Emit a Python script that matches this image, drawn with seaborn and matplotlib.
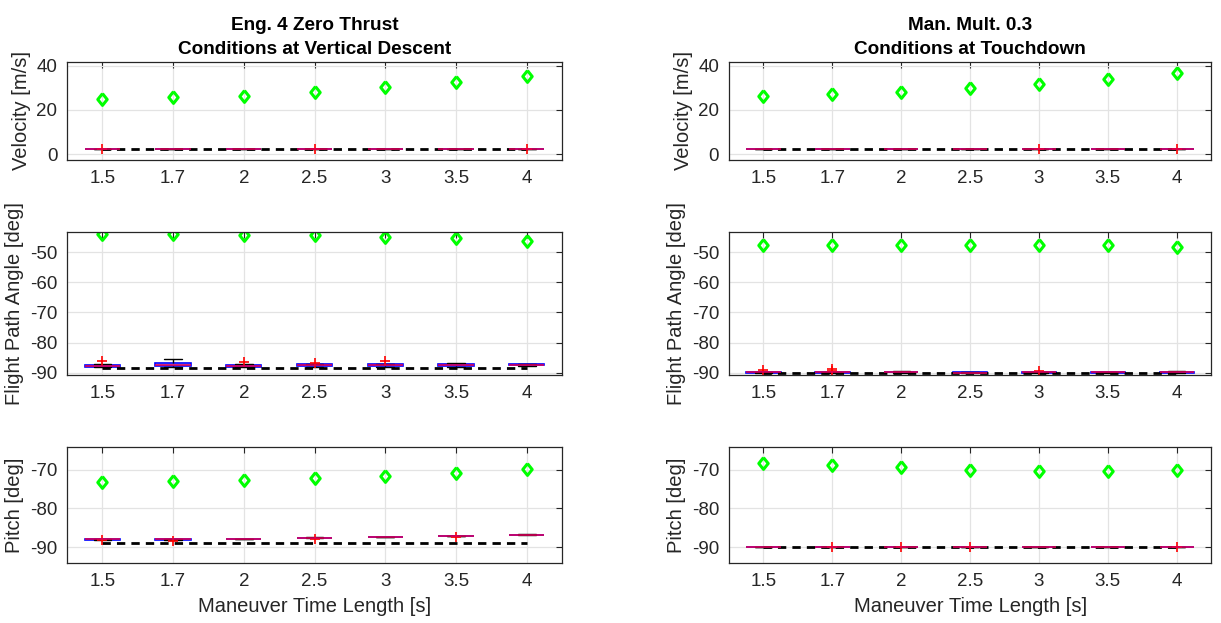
import numpy as np
import pandas as pd
import matplotlib
matplotlib.use('Agg')
import matplotlib.pyplot as plt
import seaborn as sns

sns.set_style('white')
plt.rcParams['font.family'] = ['Liberation Sans', 'DejaVu Sans']
plt.rcParams['axes.unicode_minus'] = False

times = ['1.5', '1.7', '2', '2.5', '3', '3.5', '4']

# --- Eng. 4 Zero Thrust, conditions at vertical descent ---
vd_vel_peak = [25.0, 25.8, 26.5, 28.3, 30.3, 32.7, 35.6]
vd_vel_target = [2.4, 2.4, 2.4, 2.4, 2.4, 2.4, 2.4]
vd_vel_low = [2.4, 2.4, 2.4, 2.4, 2.4, 2.4, 2.4]
vd_vel_q1 = [2.4, 2.4, 2.4, 2.4, 2.4, 2.4, 2.4]
vd_vel_med = [2.4, 2.4, 2.4, 2.4, 2.4, 2.4, 2.4]
vd_vel_q3 = [2.4, 2.4, 2.4, 2.4, 2.4, 2.4, 2.4]
vd_vel_high = [2.4, 2.4, 2.4, 2.4, 2.4, 2.4, 2.4]
vd_vel_out = [('1.5', 2.45), ('2.5', 2.45), ('4', 2.45)]

vd_fpa_peak = [-44.1, -44.1, -44.3, -44.5, -45.0, -45.5, -46.3]
vd_fpa_target = [-88.3, -88.3, -88.3, -88.3, -88.3, -88.3, -88.3]
vd_fpa_low = [-88.2, -88.1, -88.1, -88.0, -88.1, -88.1, -87.7]
vd_fpa_q1 = [-87.9, -87.7, -87.9, -87.6, -87.7, -87.6, -87.5]
vd_fpa_med = [-87.6, -87.3, -87.7, -87.4, -87.5, -87.4, -87.3]
vd_fpa_q3 = [-87.3, -86.7, -87.4, -87.2, -87.2, -87.0, -87.1]
vd_fpa_high = [-87.0, -85.5, -87.2, -87.0, -87.0, -86.6, -86.9]
vd_fpa_out = [('1.5', -86.2), ('2', -86.4), ('2.5', -86.7), ('3', -85.9)]

vd_pitch_peak = [-73.2, -72.9, -72.6, -72.1, -71.5, -70.8, -69.9]
vd_pitch_target = [-88.9, -88.9, -88.9, -88.9, -88.9, -88.9, -88.9]
vd_pitch_low = [-88.1, -88.1, -88.0, -87.7, -87.5, -87.2, -86.9]
vd_pitch_q1 = [-88.05, -88.05, -87.95, -87.65, -87.45, -87.15, -86.85]
vd_pitch_med = [-88.0, -88.0, -87.9, -87.6, -87.4, -87.1, -86.8]
vd_pitch_q3 = [-87.95, -87.95, -87.85, -87.55, -87.35, -87.05, -86.75]
vd_pitch_high = [-87.9, -87.9, -87.8, -87.5, -87.3, -87.0, -86.7]
vd_pitch_out = [('1.5', -88.2), ('1.7', -88.3), ('2.5', -87.8), ('3.5', -87.3)]

# --- Man. Mult. 0.3, conditions at touchdown ---
td_vel_peak = [26.4, 27.3, 28.2, 30.0, 31.8, 34.1, 36.8]
td_vel_target = [2.4, 2.4, 2.4, 2.4, 2.4, 2.4, 2.4]
td_vel_low = [2.4, 2.4, 2.4, 2.4, 2.4, 2.4, 2.4]
td_vel_q1 = [2.4, 2.4, 2.4, 2.4, 2.4, 2.4, 2.4]
td_vel_med = [2.4, 2.4, 2.4, 2.4, 2.4, 2.4, 2.4]
td_vel_q3 = [2.4, 2.4, 2.4, 2.4, 2.4, 2.4, 2.4]
td_vel_high = [2.4, 2.4, 2.4, 2.4, 2.4, 2.4, 2.4]
td_vel_out = [('3', 2.45), ('4', 2.45)]

td_fpa_peak = [-47.7, -47.7, -47.7, -47.8, -47.8, -47.8, -48.3]
td_fpa_target = [-90.0, -90.0, -90.0, -90.0, -90.0, -90.0, -90.0]
td_fpa_low = [-90.0, -90.0, -90.0, -90.1, -90.0, -90.0, -90.0]
td_fpa_q1 = [-89.9, -89.9, -89.8, -90.0, -89.9, -89.9, -89.9]
td_fpa_med = [-89.8, -89.8, -89.7, -89.9, -89.8, -89.8, -89.8]
td_fpa_q3 = [-89.7, -89.7, -89.6, -89.8, -89.7, -89.7, -89.6]
td_fpa_high = [-89.6, -89.6, -89.5, -89.7, -89.6, -89.6, -89.5]
td_fpa_out = [('1.5', -89.0), ('1.7', -88.8), ('1.7', -89.2), ('3', -89.5)]

td_pitch_peak = [-68.3, -68.7, -69.3, -70.1, -70.4, -70.3, -70.0]
td_pitch_target = [-90.0, -90.0, -90.0, -90.0, -90.0, -90.0, -90.0]
td_pitch_low = [-90.05, -90.05, -90.05, -90.05, -90.05, -90.05, -90.05]
td_pitch_q1 = [-90.02, -90.02, -90.02, -90.02, -90.02, -90.02, -90.02]
td_pitch_med = [-90.0, -90.0, -90.0, -90.0, -90.0, -90.0, -90.0]
td_pitch_q3 = [-89.98, -89.98, -89.98, -89.98, -89.98, -89.98, -89.98]
td_pitch_high = [-89.95, -89.95, -89.95, -89.95, -89.95, -89.95, -89.95]
td_pitch_out = [('1.7', -90.0), ('2', -90.0), ('2.5', -90.0), ('4', -90.0)]

# slightly narrow diamond, like the matlab 'd' marker
DIAMOND = [(0, 1), (0.8, 0), (0, -1), (-0.8, 0), (0, 1)]


def box_table(low, q1, med, q3, high):
    # 5 values per box -> quartiles land exactly on q1 / med / q3
    rows = []
    for t, a, b, c, d, e in zip(times, low, q1, med, q3, high):
        for v in (a, b, c, d, e):
            rows.append((t, v))
    return pd.DataFrame(rows, columns=['time', 'value'])


def draw_panel(ax, box, outliers, peak, target, ylabel, ylim, yticks, xlabel=''):
    df = box_table(*box)
    sns.boxplot(data=df, x='time', y='value', order=times, width=0.5,
                showfliers=False, linecolor='blue', linewidth=1.2,
                boxprops=dict(facecolor=(0.55, 0.55, 1.0, 0.45), edgecolor='blue'),
                medianprops=dict(color=(0.85, 0.0, 0.35), linewidth=1.2),
                whiskerprops=dict(color='black', linestyle='--', linewidth=1.0),
                capprops=dict(color='black', linewidth=1.0), ax=ax)
    sns.pointplot(x=times, y=target, order=times, color='black', marker='',
                  linestyle='--', linewidth=2.0, dashes=(3.0, 2.2),
                  errorbar=None, ax=ax)
    for t, v in outliers:
        sns.pointplot(x=[t], y=[v], order=times, color='red', marker='+',
                      linestyle='none', markersize=7.5, markeredgewidth=1.2,
                      errorbar=None, ax=ax)
    sns.pointplot(x=times, y=peak, order=times, color='#00ff00', marker=DIAMOND,
                  linestyle='none', markersize=8.5, markerfacecolor='none',
                  markeredgewidth=2.2, errorbar=None, ax=ax)

    ax.set_xlim(-0.5, 6.5)
    ax.set_ylim(*ylim)
    ax.set_yticks(yticks)
    ax.set_ylabel(ylabel, fontsize=14.5, color='#262626', labelpad=4)
    ax.set_xlabel(xlabel, fontsize=14.5, color='#262626', labelpad=5)
    ax.grid(True, color='#e3e3e3', linewidth=0.9)
    ax.set_axisbelow(True)
    ax.tick_params(direction='in', top=True, right=True, length=4,
                   width=0.8, labelsize=13.5, colors='#262626', pad=7)
    for s in ax.spines.values():
        s.set_visible(True)
        s.set_color('#262626')
        s.set_linewidth(0.9)


fig = plt.figure(figsize=(12.21, 6.23), dpi=100)

cols = [(0.0549, 0.4054), (0.597, 0.395)]
rows = [(0.7432, 0.1573), (0.398, 0.2295), (0.0963, 0.1862)]

panels = [
    [((vd_vel_low, vd_vel_q1, vd_vel_med, vd_vel_q3, vd_vel_high), vd_vel_out, vd_vel_peak, vd_vel_target),
     ((vd_fpa_low, vd_fpa_q1, vd_fpa_med, vd_fpa_q3, vd_fpa_high), vd_fpa_out, vd_fpa_peak, vd_fpa_target),
     ((vd_pitch_low, vd_pitch_q1, vd_pitch_med, vd_pitch_q3, vd_pitch_high), vd_pitch_out, vd_pitch_peak, vd_pitch_target)],
    [((td_vel_low, td_vel_q1, td_vel_med, td_vel_q3, td_vel_high), td_vel_out, td_vel_peak, td_vel_target),
     ((td_fpa_low, td_fpa_q1, td_fpa_med, td_fpa_q3, td_fpa_high), td_fpa_out, td_fpa_peak, td_fpa_target),
     ((td_pitch_low, td_pitch_q1, td_pitch_med, td_pitch_q3, td_pitch_high), td_pitch_out, td_pitch_peak, td_pitch_target)],
]
ylabels = ['Velocity [m/s]', 'Flight Path Angle [deg]', 'Pitch [deg]']
ylims = [(-2.7, 41.8), (-90.7, -43.4), (-94.1, -64.1)]
yticks = [[0, 20, 40], [-90, -80, -70, -60, -50], [-90, -80, -70]]
titles = ['Eng. 4 Zero Thrust\nConditions at Vertical Descent',
          'Man. Mult. 0.3\nConditions at Touchdown']

for c, (x0, w) in enumerate(cols):
    for r, (y0, h) in enumerate(rows):
        ax = fig.add_axes([x0, y0, w, h])
        box, out, peak, target = panels[c][r]
        xl = 'Maneuver Time Length [s]' if r == 2 else ''
        draw_panel(ax, box, out, peak, target, ylabels[r], ylims[r], yticks[r], xl)
        if r == 0:
            ax.set_title(titles[c], fontsize=13.7, fontweight='bold',
                         linespacing=1.5, pad=6, color='black')

fig.savefig('out.png', dpi=100)
